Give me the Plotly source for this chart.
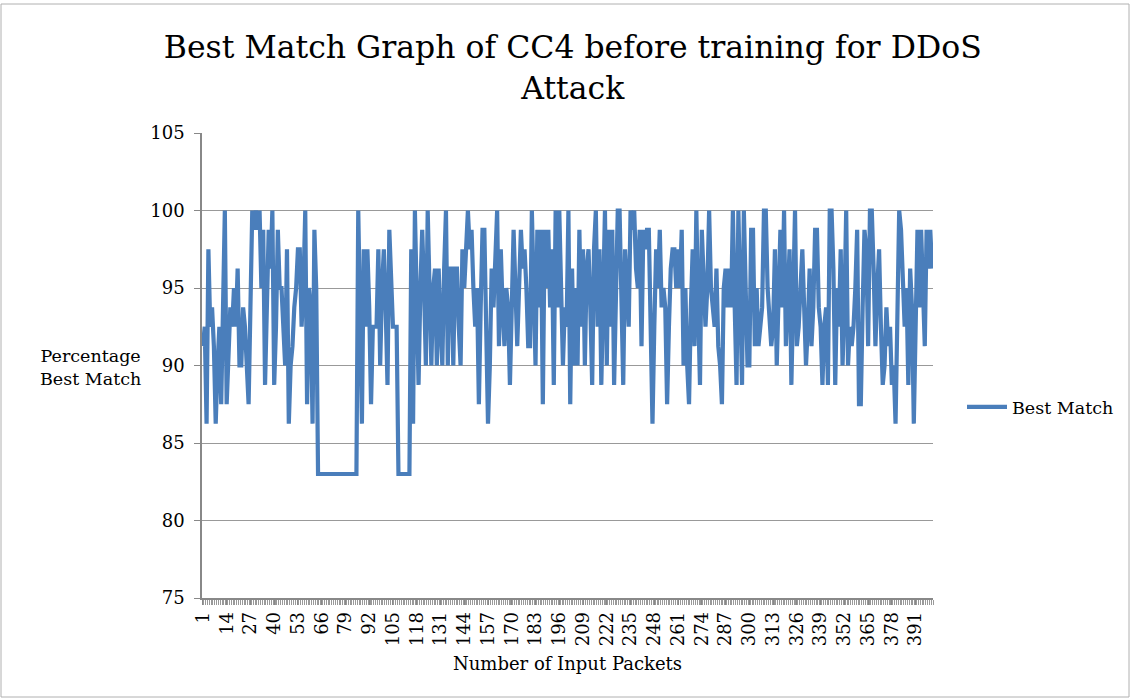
import plotly.graph_objects as go

series_name = "Best Match"
best_match = [
    91.25, 92.5, 86.25, 97.5, 92.5, 93.75, 91.25, 86.25, 90, 92.5,
    87.5, 92.5, 100, 87.5, 90, 93.75, 92.5, 95, 92.5, 96.25,
    90, 90, 93.75, 92.5, 90, 87.5, 93.75, 100, 98.75, 100,
    98.75, 100, 95, 98.75, 88.75, 95, 98.75, 96.25, 100, 88.75,
    92.5, 98.75, 95, 95, 92.5, 90, 97.5, 86.25, 90, 91.25,
    93.75, 95, 97.5, 97.5, 92.5, 95, 100, 87.5, 95, 93.75,
    86.25, 98.75, 95, 83, 83, 83, 83, 83, 83, 83,
    83, 83, 83, 83, 83, 83, 83, 83, 83, 83,
    83, 83, 83, 83, 83, 100, 92.5, 86.25, 97.5, 92.5,
    97.5, 93.75, 87.5, 92.5, 92.5, 92.5, 97.5, 90, 95, 97.5,
    93.75, 88.75, 98.75, 95, 92.5, 92.5, 92.5, 83, 83, 83,
    83, 83, 83, 83, 97.5, 86.25, 100, 95, 88.75, 95,
    98.75, 95, 90, 100, 95, 90, 95, 96.25, 90, 96.25,
    92.5, 90, 96.25, 100, 90, 96.25, 96.25, 90, 96.25, 96.25,
    92.5, 90, 97.5, 95, 97.5, 100, 97.5, 98.75, 95, 92.5,
    95, 87.5, 93.75, 98.75, 98.75, 92.5, 86.25, 90, 96.25, 93.75,
    96.25, 100, 91.25, 97.5, 93.75, 91.25, 95, 93.75, 88.75, 93.75,
    98.75, 95, 91.25, 95, 98.75, 96.25, 97.5, 95, 91.25, 91.25,
    100, 95, 90, 98.75, 93.75, 98.75, 87.5, 98.75, 95, 98.75,
    93.75, 97.5, 88.75, 100, 93.75, 100, 93.75, 90, 93.75, 92.5,
    100, 87.5, 96.25, 90, 95, 90, 98.75, 92.5, 97.5, 90,
    96.25, 97.5, 93.75, 88.75, 97.5, 100, 92.5, 97.5, 88.75, 95,
    100, 90, 98.75, 92.5, 98.75, 88.75, 95, 100, 100, 93.75,
    88.75, 97.5, 95, 92.5, 100, 98.75, 100, 96.25, 95, 98.75,
    91.25, 98.75, 97.5, 98.75, 98.75, 93.75, 86.25, 92.5, 97.5, 95,
    98.75, 93.75, 95, 93.75, 87.5, 92.5, 96.25, 97.5, 97.5, 95,
    97.5, 95, 98.75, 90, 95, 90, 87.5, 93.75, 97.5, 91.25,
    100, 93.75, 88.75, 98.75, 95, 92.5, 95, 100, 95, 93.75,
    92.5, 96.25, 91.25, 90, 87.5, 95, 96.25, 93.75, 96.25, 93.75,
    100, 93.75, 88.75, 100, 93.75, 88.75, 100, 95, 90, 90,
    98.75, 98.75, 91.25, 95, 91.25, 92.5, 93.75, 100, 100, 95,
    92.5, 91.25, 92.5, 97.5, 90, 93.75, 98.75, 93.75, 100, 91.25,
    93.75, 97.5, 88.75, 93.75, 100, 91.25, 92.5, 95, 97.5, 93.75,
    90, 92.5, 96.25, 91.25, 93.75, 98.75, 98.75, 93.75, 92.5, 88.75,
    92.5, 93.75, 88.75, 100, 100, 96.25, 88.75, 95, 92.5, 97.5,
    90, 93.75, 100, 90, 92.5, 91.25, 92.5, 95, 98.75, 87.5,
    87.5, 93.75, 98.75, 97.5, 91.25, 100, 100, 96.25, 91.25, 95,
    97.5, 92.5, 88.75, 90, 93.75, 91.25, 92.5, 88.75, 90, 86.25,
    92.5, 100, 98.75, 96.25, 92.5, 95, 88.75, 96.25, 93.75, 86.25,
    93.75, 98.75, 93.75, 98.75, 95, 91.25, 98.75, 96.25, 98.75, 96.25,
]
packets = list(range(1, len(best_match) + 1))
x_tick_vals = list(range(1, len(best_match) + 1, 13))
x_tick_text = [str(v) for v in x_tick_vals]
y_tick_vals = [75, 80, 85, 90, 95, 100, 105]

FONT = "DejaVu Serif"
W, H = 1132, 700
L, R, T, B = 202, 199, 133, 102
PW, PH = W - L - R, H - T - B

def px(xp):
    return (xp - L) / PW

def py(yp):
    return (H - B - yp) / PH

fig = go.Figure()
fig.add_trace(go.Scatter(
    x=packets, y=best_match, mode="lines", name=series_name,
    line=dict(color="#4A7EBB", width=4.2),
))

fig.update_layout(
    width=W, height=H,
    margin=dict(l=L, r=R, t=T, b=B, autoexpand=False),
    paper_bgcolor="white", plot_bgcolor="white",
    font=dict(family=FONT, color="#000000", size=17),
    title=dict(
        text="Best Match Graph of CC4 before training for DDoS<br>Attack",
        x=0.506, xanchor="center", y=1 - 58 / H, yanchor="middle",
        font=dict(family=FONT, size=31.5, color="#000000"),
    ),
    showlegend=True,
    legend=dict(
        x=px(962), xanchor="left", y=py(407), yanchor="middle",
        font=dict(family=FONT, size=17.5), bgcolor="rgba(0,0,0,0)",
        itemwidth=40,
    ),
    xaxis=dict(
        range=[0.5, len(best_match) + 0.5],
        tickmode="array", tickvals=x_tick_vals, ticktext=x_tick_text,
        tickangle=-90, ticks="outside", ticklen=5, tickcolor="#888888",
        tickfont=dict(family=FONT, size=18),
        minor=dict(tickmode="linear", tick0=0.5, dtick=1, ticks="outside",
                   ticklen=5, tickcolor="#999999", showgrid=False),
        showline=True, linecolor="#888888", linewidth=1.5,
        showgrid=False, zeroline=False,
        title=dict(text="Number of Input Packets", standoff=12,
                   font=dict(family=FONT, size=18)),
    ),
    yaxis=dict(
        range=[75, 105], tickvals=y_tick_vals,
        ticks="outside", ticklen=6, tickcolor="#888888",
        tickfont=dict(family=FONT, size=18), ticklabelstandoff=6,
        showline=True, linecolor="#888888", linewidth=1.5,
        showgrid=True, gridcolor="#999999", gridwidth=1.2,
        zeroline=False,
    ),
)

fig.add_annotation(
    text="Percentage<br>Best Match", xref="paper", yref="paper",
    x=px(90), y=py(367), xanchor="center", yanchor="middle",
    showarrow=False, align="center",
    font=dict(family=FONT, size=17.5, color="#000000"),
)

fig.add_shape(
    type="rect", xref="paper", yref="paper",
    x0=px(1), y0=py(697), x1=px(1129), y1=py(4),
    line=dict(color="#b0b0b0", width=1), fillcolor="rgba(0,0,0,0)",
    layer="below",
)

fig.write_html("out.html", config={"displayModeBar": False},
               post_script="document.body.style.margin='0';")
